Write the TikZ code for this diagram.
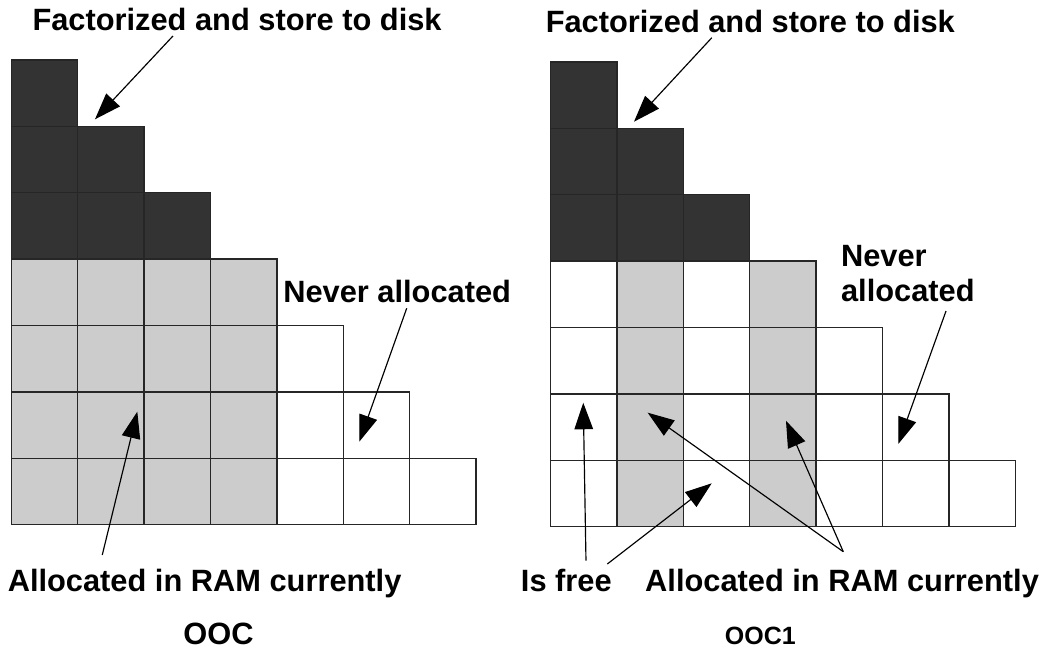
\documentclass[tikz,border=0pt]{standalone}
\usepackage{fontspec}
\setmainfont{Liberation Sans}
\usepackage{tikz}
\usetikzlibrary{arrows.meta, positioning}
\definecolor{diskfill}{HTML}{333333}
\definecolor{ramfill}{HTML}{CCCCCC}

\begin{document}
\begin{tikzpicture}[
    cell/.style = {draw=black!85, line width=0.55pt},
    txt/.style = {font=\bfseries\fontsize{13.2}{15}\selectfont, inner sep=0pt},
    pointer/.style = {line width=0.5pt, -{Triangle[length=0.4cm, width=0.28cm]}}
]
\useasboundingbox (-0.170,-1.902) rectangle (15.583,7.902);

% OOC: left panel
\foreach \r in {0,1,2}
  \foreach \c in {0,...,\r}
    \draw[cell, fill=diskfill] (\c,6-\r) rectangle ++(1,1);
\foreach \r in {3,...,6}
  \foreach \c in {0,...,3}
    \draw[cell, fill=ramfill] (\c,6-\r) rectangle ++(1,1);
\foreach \r in {4,5,6}
  \foreach \c in {4,...,\r}
    \draw[cell, fill=white] (\c,6-\r) rectangle ++(1,1);

% OOC1: right panel
\begin{scope}[xshift=8.12cm, yshift=-0.03cm]
\foreach \r in {0,1,2}
  \foreach \c in {0,...,\r}
    \draw[cell, fill=diskfill] (\c,6-\r) rectangle ++(1,1);
\foreach \r in {3,...,6}
  \foreach \c in {0,...,\r}
    \draw[cell, fill=white] (\c,6-\r) rectangle ++(1,1);
\foreach \c in {1,3}
  \foreach \r in {3,...,6}
    \draw[cell, fill=ramfill] (\c,6-\r) rectangle ++(1,1);
\end{scope}

% Labels
\node (disk_left) [txt, anchor=base] at (3.40,7.44) {Factorized and store to disk};
\node (disk_right) [txt, anchor=base] at (11.13,7.42) {Factorized and store to disk};
\node (never_left) [txt, anchor=base west] at (4.09,3.34) {Never allocated};
\node (never_right) [txt, anchor=north west, align=left] at (12.49,4.22) {Never\\allocated};
\node (ram_left) [txt, anchor=base west] at (-0.06,-1.0) {Allocated in RAM currently};
\node (ram_right) [txt, anchor=base west] at (9.54,-1.0) {Allocated in RAM currently};
\node (free_right) [txt, anchor=base east] at (9.05,-1.0) {Is free};
\node (ooc) [txt, anchor=base] at (3.12,-1.81) {OOC};
\node (ooc1) [txt, font=\bfseries\fontsize{10.7}{13}\selectfont, anchor=base] at (11.28,-1.80) {OOC1};

% Arrow ends
\coordinate (disk_left tail) at (2.435,7.36);
\coordinate (disk_left tip) at (1.26,6.105);
\coordinate (disk_right tail) at (10.55,7.334);
\coordinate (disk_right tip) at (9.378,6.069);
\coordinate (never_left tail) at (5.955,3.259);
\coordinate (never_left tip) at (5.241,1.25);
\coordinate (never_right tail) at (14.077,3.218);
\coordinate (never_right tip) at (13.358,1.215);
\coordinate (ram_left tail) at (1.37,-0.456);
\coordinate (ram_left tip) at (1.898,1.702);
\coordinate (free_a tail) at (8.655,-0.542);
\coordinate (free_a tip) at (8.614,1.837);
\coordinate (free_b tail) at (8.976,-0.592);
\coordinate (free_b tip) at (10.548,0.623);
\coordinate (ram_right tail) at (12.53,-0.407);
\coordinate (ram_c tip) at (9.584,1.687);
\coordinate (ram_d tip) at (11.667,1.566);

% Connections
\draw[pointer] (disk_left tail) -- (disk_left tip);
\draw[pointer] (disk_right tail) -- (disk_right tip);
\draw[pointer] (never_left tail) -- (never_left tip);
\draw[pointer] (never_right tail) -- (never_right tip);
\draw[pointer] (ram_left tail) -- (ram_left tip);
\draw[pointer] (free_a tail) -- (free_a tip);
\draw[pointer] (free_b tail) -- (free_b tip);
\draw[pointer] (ram_right tail) -- (ram_c tip);
\draw[pointer] (ram_right tail) -- (ram_d tip);

\end{tikzpicture}
\end{document}
